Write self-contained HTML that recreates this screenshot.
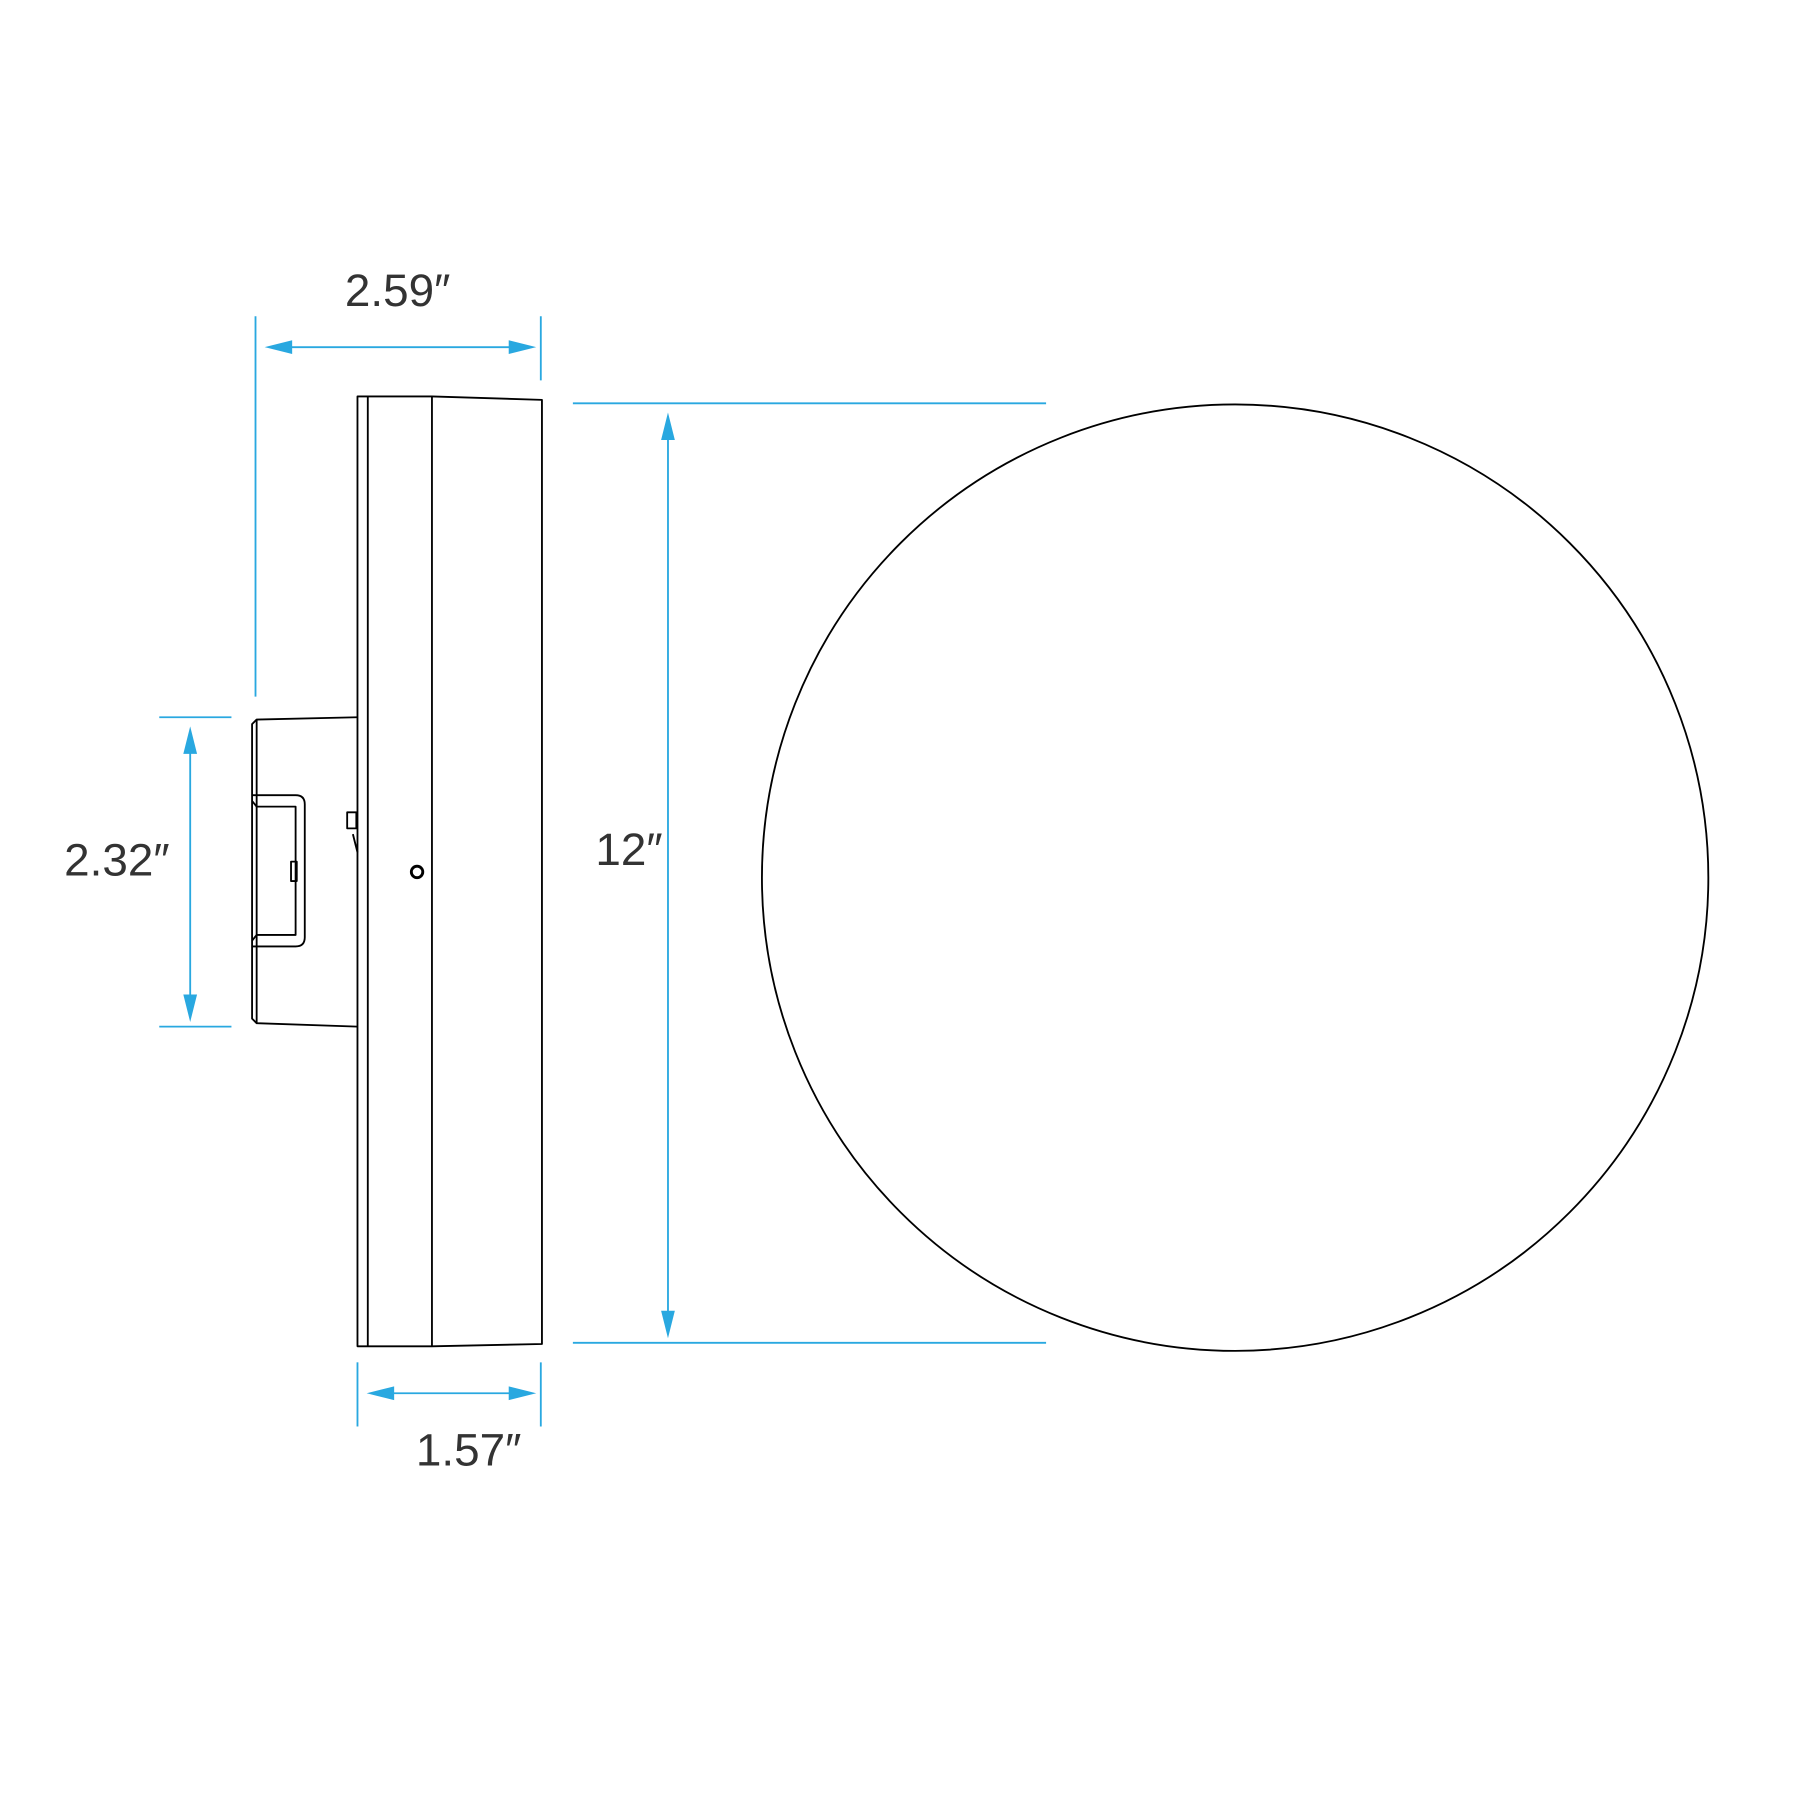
<!DOCTYPE html>
<html><head><meta charset="utf-8"><style>
html,body{margin:0;padding:0;background:#fff;}
svg{display:block;}
text{font-family:"Liberation Sans",sans-serif;font-size:40px;fill:#333;font-weight:normal;}
</style></head><body>
<svg width="1800" height="1800" viewBox="0 0 1571 1571" xmlns="http://www.w3.org/2000/svg">
<g transform="translate(2,2)">
<g fill="none" stroke="#000" stroke-width="1.6" stroke-linejoin="round">
  <ellipse cx="1076" cy="764" rx="413" ry="413"/>
  <path d="M310 344 L375 344 L471 347 L471 1171 L375 1173 L310 1173 Z"/>
  <line x1="319" y1="344" x2="319" y2="1173"/>
  <line x1="375" y1="344" x2="375" y2="1173"/>
  <path d="M310 624 L222 626 L218 630 L218 887 L222 891 L310 894"/>
  <line x1="222" y1="626" x2="222" y2="891"/>
  <path d="M218 692 L256 692 Q264 692 264 700 L264 816 Q264 824 256 824 L218 824"/>
  <path d="M222 702 L256 702 L256 814 L222 814"/>
  <line x1="218" y1="697" x2="222" y2="702"/>
  <line x1="218" y1="819" x2="222" y2="814"/>
  <rect x="252" y="750" width="5" height="17"/>
  <rect x="301" y="707" width="8" height="14"/>
  <path d="M306 726 L310 742"/>
  <circle cx="362" cy="759" r="5" stroke-width="2.5"/>
</g>
<g stroke="#29a8e0" stroke-width="1.6" fill="#29a8e0">
  <line x1="221" y1="274" x2="221" y2="606"/>
  <line x1="470" y1="274" x2="470" y2="330"/>
  <line x1="240" y1="301" x2="455" y2="301"/>
  <path d="M229 301 L253 295 L253 307 Z" stroke="none"/>
  <path d="M466 301 L442 295 L442 307 Z" stroke="none"/>

  <line x1="498" y1="350" x2="911" y2="350"/>
  <line x1="498" y1="1170" x2="911" y2="1170"/>
  <line x1="581" y1="370" x2="581" y2="1155"/>
  <path d="M581 358 L575 382 L587 382 Z" stroke="none"/>
  <path d="M581 1166 L575 1142 L587 1142 Z" stroke="none"/>

  <line x1="137" y1="624" x2="200" y2="624"/>
  <line x1="137" y1="894" x2="200" y2="894"/>
  <line x1="164" y1="645" x2="164" y2="880"/>
  <path d="M164 632 L158 656 L170 656 Z" stroke="none"/>
  <path d="M164 890 L158 866 L170 866 Z" stroke="none"/>

  <line x1="310" y1="1187" x2="310" y2="1243"/>
  <line x1="470" y1="1187" x2="470" y2="1243"/>
  <line x1="330" y1="1214" x2="455" y2="1214"/>
  <path d="M318 1214 L342 1208 L342 1220 Z" stroke="none"/>
  <path d="M466 1214 L442 1208 L442 1220 Z" stroke="none"/>
</g>
<text x="345" y="265" text-anchor="middle">2.59″</text>
<text x="547" y="753" text-anchor="middle">12″</text>
<text x="100" y="762" text-anchor="middle">2.32″</text>
<text x="407" y="1277" text-anchor="middle">1.57″</text>
</g>
</svg>
</body></html>
